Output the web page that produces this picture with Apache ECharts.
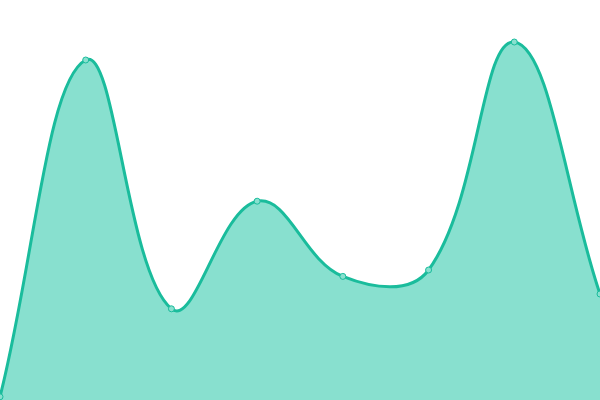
<!DOCTYPE html>
<html><head><meta charset="utf-8">
<script src="https://cdn.jsdelivr.net/npm/echarts@6/dist/echarts.min.js"></script>
<style>html,body{margin:0;padding:0;background:#fff}#c{width:600px;height:400px}</style>
</head><body><div id="c"></div>
<script>
var categories = ['A','B','C','D','E','F','G','H'];
var values = [0.8, 85, 22.8, 49.7, 30.9, 32.5, 89.5, 26.5];
var TENSION = 0.4;

function buildCurve(pts, rect) {
  function clamp(p) {
    return [Math.min(Math.max(p[0], rect.x0), rect.x1), Math.min(Math.max(p[1], rect.y0), rect.y1)];
  }
  var n = pts.length, cpPrev = [], cpNext = [];
  for (var i = 0; i < n; i++) {
    var p = pts[i], prev = pts[i - 1] || p, next = pts[i + 1] || p;
    var d01 = Math.hypot(p[0] - prev[0], p[1] - prev[1]);
    var d12 = Math.hypot(next[0] - p[0], next[1] - p[1]);
    var sum = d01 + d12;
    var s01 = sum ? d01 / sum : 0, s12 = sum ? d12 / sum : 0;
    var vx = next[0] - prev[0], vy = next[1] - prev[1];
    cpPrev.push(clamp([p[0] - TENSION * s01 * vx, p[1] - TENSION * s01 * vy]));
    cpNext.push(clamp([p[0] + TENSION * s12 * vx, p[1] + TENSION * s12 * vy]));
  }
  var d = 'M' + pts[0][0] + ' ' + pts[0][1];
  for (var j = 1; j < n; j++) {
    d += ' C' + cpNext[j - 1][0] + ' ' + cpNext[j - 1][1] + ' ' + cpPrev[j][0] + ' ' + cpPrev[j][1] +
         ' ' + pts[j][0] + ' ' + pts[j][1];
  }
  return d;
}

var chart = echarts.init(document.getElementById('c'));
chart.setOption({
  animation: false,
  grid: {left: 0, right: 0, top: 0, bottom: 0},
  xAxis: {type: 'category', data: categories, boundaryGap: false, show: false},
  yAxis: {type: 'value', min: 0, max: 100, show: false},
  series: [{
    type: 'custom',
    z: 2,
    data: values.map(function (v, i) { return [i, v]; }),
    renderItem: function (params, api) {
      if (params.dataIndex !== 0) return;
      var pts = values.map(function (v, i) { return api.coord([i, v]); });
      var lo = api.coord([0, 0]), hi = api.coord([categories.length - 1, 100]);
      var rect = {x0: lo[0], x1: hi[0], y0: hi[1], y1: lo[1]};
      var line = buildCurve(pts, rect);
      var area = line + ' L' + pts[pts.length - 1][0] + ' ' + lo[1] + ' L' + pts[0][0] + ' ' + lo[1] + ' Z';
      return {
        type: 'group',
        children: [
          {type: 'path', shape: {pathData: area}, style: {fill: '#88e0cf', stroke: null}},
          {type: 'path', shape: {pathData: line}, style: {fill: null, stroke: '#1abc9c', lineWidth: 3}}
        ]
      };
    }
  }, {
    type: 'line',
    z: 3,
    data: values,
    symbol: 'circle',
    symbolSize: 6,
    lineStyle: {width: 0, opacity: 0},
    itemStyle: {color: '#88e0cf', borderColor: '#1abc9c', borderWidth: 1}
  }]
});
</script></body></html>
